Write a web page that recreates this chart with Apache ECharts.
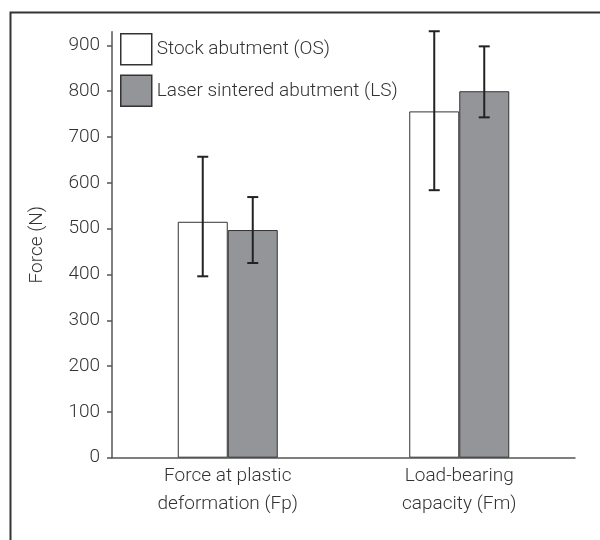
<!DOCTYPE html>
<html>
<head>
<meta charset="utf-8">
<script src="https://cdn.jsdelivr.net/npm/echarts@6/dist/echarts.min.js"></script>
<style>html,body{margin:0;padding:0;background:#fff}#c{width:600px;height:540px}</style>
</head>
<body>
<div id="c"></div>
<script>
// ---- data ----
var categories = ['Force at plastic\ndeformation (Fp)', 'Load-bearing\ncapacity (Fm)'];
var seriesNames = ['Stock abutment (OS)', 'Laser sintered abutment (LS)'];
var osMean = [515, 756];
var lsMean = [497, 800];
var osLow = [396, 584];
var osHigh = [657, 931];
var lsLow = [425, 743];
var lsHigh = [569, 898];
var yTicks = [0, 100, 200, 300, 400, 500, 600, 700, 800, 900];

var FONT = 'Roboto, "Liberation Sans", sans-serif';
var TXT = '#333';
var FS = 19;
var BARW = 50;

function errSeries(low, high, offset) {
  var d = low.map(function (l, i) { return [i, l, high[i]]; });
  return {
    type: 'custom',
    data: d,
    z: 10,
    silent: true,
    renderItem: function (params, api) {
      var lo = api.coord([api.value(0), api.value(1)]);
      var hi = api.coord([api.value(0), api.value(2)]);
      var x = lo[0] + offset;
      var cap = 5.5;
      var st = { stroke: '#222', lineWidth: 2 };
      return {
        type: 'group',
        children: [
          { type: 'line', shape: { x1: x, y1: lo[1], x2: x, y2: hi[1] }, style: st },
          { type: 'line', shape: { x1: x - cap, y1: lo[1], x2: x + cap, y2: lo[1] }, style: st },
          { type: 'line', shape: { x1: x - cap, y1: hi[1], x2: x + cap, y2: hi[1] }, style: st }
        ]
      };
    }
  };
}

var chart = echarts.init(document.getElementById('c'), null, { renderer: 'canvas' });
chart.setOption({
  animation: false,
  backgroundColor: '#fff',
  textStyle: { fontFamily: FONT, color: TXT },
  graphic: [{
    type: 'rect', left: 8, top: 10,
    shape: { width: 700, height: 700 },
    style: { fill: 'none', stroke: '#333', lineWidth: 2 }
  }],
  legend: {
    orient: 'vertical',
    left: 120, top: 33,
    padding: 0,
    itemWidth: 31, itemHeight: 31, itemGap: 9,
    icon: 'rect',
    textStyle: { fontFamily: FONT, fontSize: FS, fontWeight: 300, color: TXT },
    itemStyle: { borderColor: '#333', borderWidth: 1.5 },
    data: seriesNames
  },
  grid: { left: 112, right: 25, top: 31.7, bottom: 82.3, containLabel: false },
  xAxis: {
    type: 'category',
    data: categories,
    axisLine: { lineStyle: { color: '#555', width: 1.5 } },
    axisTick: { show: false },
    axisLabel: { fontFamily: FONT, fontSize: FS, fontWeight: 300, color: TXT, lineHeight: 28, margin: 5 }
  },
  yAxis: {
    type: 'value',
    min: 0, max: 930,
    name: 'Force (N)',
    nameLocation: 'middle',
    nameGap: 65,
    nameTextStyle: { fontFamily: FONT, fontSize: FS, fontWeight: 300, color: TXT },
    splitLine: { show: false },
    axisLine: { show: true, lineStyle: { color: '#555', width: 1.5 } },
    axisTick: { show: true, length: 5, customValues: yTicks, lineStyle: { color: '#555', width: 1.5 } },
    axisLabel: { customValues: yTicks, fontFamily: FONT, fontSize: FS, fontWeight: 300, color: TXT, margin: 12 }
  },
  series: [
    {
      name: seriesNames[0], type: 'bar', data: osMean, barWidth: BARW, barGap: '0%',
      itemStyle: { color: '#ffffff', borderColor: '#333', borderWidth: 1 }
    },
    {
      name: seriesNames[1], type: 'bar', data: lsMean, barWidth: BARW, barGap: '0%',
      itemStyle: { color: '#939598', borderColor: '#333', borderWidth: 1 }
    },
    errSeries(osLow, osHigh, -BARW / 2),
    errSeries(lsLow, lsHigh, BARW / 2)
  ]
});
</script>
</body>
</html>
